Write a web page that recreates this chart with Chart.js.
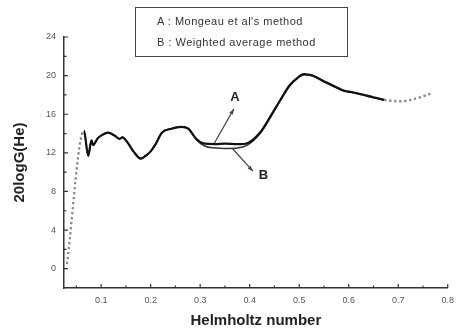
<!DOCTYPE html>
<html lang="en">
<head>
    <meta charset="UTF-8">
    <title>20logG(He) vs Helmholtz number</title>
    <script src="https://cdn.jsdelivr.net/npm/chart.js@4.4.0/dist/chart.umd.min.js"></script>
    <style>
        body { margin: 0; background: #fff; }
        #wrap { position: relative; width: 461px; height: 330px; }
        #legendBox {
            position: absolute; left: 135px; top: 7px; width: 211px; height: 48px;
            border: 1.5px solid #444; font-family: "Liberation Sans", Arial, sans-serif;
            font-size: 11px; color: #333; letter-spacing: 0.5px;
        }
        #legendBox div { position: absolute; left: 21px; white-space: nowrap; }
    </style>
</head>
<body>
<div id="wrap">
    <canvas id="chart" width="461" height="330"></canvas>
    <div id="legendBox">
        <div style="top:7px">A : Mongeau et al's method</div>
        <div style="top:28px">B : Weighted average method</div>
    </div>
</div>

<script>
// Helmholtz number samples
const helmholtz = [0.031, 0.0653, 0.0738, 0.0805, 0.0837, 0.093, 0.1036, 0.1135, 0.127, 0.137,
    0.143, 0.153, 0.166, 0.18, 0.19, 0.2, 0.21, 0.223, 0.242, 0.262, 0.276, 0.292, 0.309,
    0.33, 0.35, 0.375, 0.395, 0.421, 0.441, 0.461, 0.48, 0.497, 0.51, 0.527, 0.547, 0.573,
    0.593, 0.606, 0.639, 0.672, 0.706, 0.732, 0.752, 0.768];

// A : Mongeau et al's method
const seriesA = [0.5, 14.3, 11.7, 13.3, 12.8, 13.5, 13.9, 14.1, 13.8, 13.45,
    13.6, 13.1, 12.1, 11.4, 11.7, 12.15, 12.9, 14.1, 14.5, 14.7, 14.5, 13.45, 12.95,
    12.9, 12.95, 12.9, 13.0, 14.1, 15.7, 17.4, 18.95, 19.8, 20.15, 20.0, 19.5, 18.85,
    18.4, 18.3, 17.9, 17.5, 17.35, 17.6, 17.9, 18.2];

// B : Weighted average method
const seriesB = [0.5, 14.3, 11.7, 13.3, 12.8, 13.5, 13.9, 14.1, 13.8, 13.45,
    13.6, 13.1, 12.1, 11.4, 11.7, 12.15, 12.9, 14.1, 14.5, 14.7, 14.5, 13.4, 12.7,
    12.5, 12.45, 12.5, 12.8, 14.0, 15.6, 17.35, 18.9, 19.75, 20.1, 20.0, 19.45, 18.8,
    18.35, 18.25, 17.85, 17.45, 17.3, 17.55, 17.85, 18.15];

const xTicks = [0.1, 0.2, 0.3, 0.4, 0.5, 0.6, 0.7, 0.8];
const yTicks = [0, 4, 8, 12, 16, 20, 24];

// annotation arrows in data units: [fromX, fromY, toX, toY]
const arrows = [[0.3286, 13.0, 0.368, 16.55], [0.365, 12.45, 0.4065, 10.1]];
const arrowLabels = [['A', 0.370, 17.75], ['B', 0.428, 9.67]];

const isDotted = ctx => ctx.p0.parsed.x < 0.065 || ctx.p0.parsed.x >= 0.66;
const dotted = ctx => isDotted(ctx) ? [2, 3] : undefined;
const dottedColor = (ctx, c) => isDotted(ctx) ? '#888' : c;

function toPoints(ys) {
    return helmholtz.map((x, i) => ({ x: x, y: ys[i] }));
}

// inward tick marks plus arrows and letters
const decorPlugin = {
    id: 'decor',
    afterDraw(chart) {
        const c = chart.ctx, xs = chart.scales.x, ys = chart.scales.y;
        const area = chart.chartArea;
        c.save();
        c.strokeStyle = '#333';
        c.lineWidth = 1.2;
        c.beginPath();
        for (let v = 0.05; v <= 0.801; v += 0.05) {
            const px = xs.getPixelForValue(v);
            const major = Math.abs(v * 10 - Math.round(v * 10)) < 0.01;
            c.moveTo(px, area.bottom);
            c.lineTo(px, area.bottom - (major ? 4 : 2.5));
        }
        for (let v = 0; v <= 24; v += 2) {
            const py = ys.getPixelForValue(v);
            c.moveTo(area.left, py);
            c.lineTo(area.left + (v % 4 === 0 ? 4 : 2.5), py);
        }
        c.stroke();

        c.strokeStyle = '#444';
        c.fillStyle = '#444';
        c.lineWidth = 1.2;
        arrows.forEach(a => {
            const x0 = xs.getPixelForValue(a[0]), y0 = ys.getPixelForValue(a[1]);
            const x1 = xs.getPixelForValue(a[2]), y1 = ys.getPixelForValue(a[3]);
            c.beginPath();
            c.moveTo(x0, y0);
            c.lineTo(x1, y1);
            c.stroke();
            const ang = Math.atan2(y1 - y0, x1 - x0);
            c.beginPath();
            c.moveTo(x1, y1);
            c.lineTo(x1 - 6 * Math.cos(ang - 0.35), y1 - 6 * Math.sin(ang - 0.35));
            c.lineTo(x1 - 6 * Math.cos(ang + 0.35), y1 - 6 * Math.sin(ang + 0.35));
            c.closePath();
            c.fill();
        });
        c.fillStyle = '#222';
        c.font = 'bold 13px "Liberation Sans", Arial, sans-serif';
        c.textAlign = 'center';
        c.textBaseline = 'middle';
        arrowLabels.forEach(l => {
            c.fillText(l[0], xs.getPixelForValue(l[1]), ys.getPixelForValue(l[2]));
        });
        c.restore();
    }
};

new Chart(document.getElementById('chart'), {
    type: 'line',
    data: {
        datasets: [{
            label: "Mongeau et al's method",
            data: toPoints(seriesA),
            borderColor: '#111',
            borderWidth: 2.2,
            pointRadius: 0,
            cubicInterpolationMode: 'monotone',
            segment: { borderDash: dotted, borderColor: ctx => dottedColor(ctx, '#111') }
        }, {
            label: 'Weighted average method',
            data: toPoints(seriesB),
            borderColor: '#333',
            borderWidth: 1.6,
            pointRadius: 0,
            cubicInterpolationMode: 'monotone',
            segment: { borderDash: dotted, borderColor: ctx => dottedColor(ctx, '#333') }
        }]
    },
    options: {
        responsive: false,
        animation: false,
        layout: { padding: { top: 37, right: 6, left: 0, bottom: 0 } },
        plugins: { legend: { display: false }, tooltip: { enabled: false } },
        scales: {
            x: {
                type: 'linear',
                min: 0.025,
                max: 0.8,
                afterBuildTicks: s => { s.ticks = xTicks.map(v => ({ value: v })); },
                afterFit: s => { s.height = 42; },
                grid: { display: false, drawTicks: false },
                border: { display: true, color: '#333', width: 1.5 },
                ticks: {
                    padding: 7,
                    maxRotation: 0,
                    color: '#555',
                    font: { family: '"Liberation Sans", Arial, sans-serif', size: 9 },
                    callback: v => v.toFixed(1)
                },
                title: {
                    display: true,
                    text: 'Helmholtz number',
                    color: '#222',
                    padding: { top: 0, bottom: 0 },
                    font: { family: '"Liberation Sans", Arial, sans-serif', size: 15, weight: 'bold' }
                }
            },
            y: {
                min: -2,
                max: 24,
                afterBuildTicks: s => { s.ticks = yTicks.map(v => ({ value: v })); },
                afterFit: s => { s.width = 64; },
                grid: { display: false, drawTicks: false },
                border: { display: true, color: '#333', width: 1.5 },
                ticks: {
                    padding: 8,
                    color: '#555',
                    font: { family: '"Liberation Sans", Arial, sans-serif', size: 9 }
                },
                title: {
                    display: true,
                    text: '20logG(He)',
                    color: '#222',
                    padding: { top: 11, bottom: 0 },
                    font: { family: '"Liberation Sans", Arial, sans-serif', size: 15, weight: 'bold' }
                }
            }
        }
    },
    plugins: [decorPlugin]
});
</script>
</body>
</html>
